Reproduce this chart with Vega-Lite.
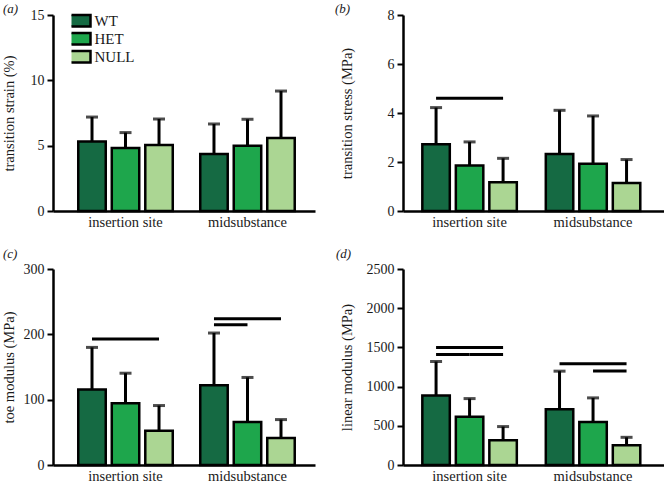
{
  "$schema": "https://vega.github.io/schema/vega-lite/v6.json",
  "background": "white",
  "padding": {"left": 1, "top": 3, "right": 0, "bottom": 0},
  "bounds": "flush",
  "columns": 2,
  "spacing": {"row": 58, "column": 88},
  "resolve": {"scale": {"color": "independent"}, "legend": {"color": "independent"}},
  "datasets": {
    "bars": [
      {"panel": "a", "site": "insertion site", "genotype": "WT", "mean": 5.31, "upper": 7.19},
      {"panel": "a", "site": "insertion site", "genotype": "HET", "mean": 4.82, "upper": 6.0},
      {"panel": "a", "site": "insertion site", "genotype": "NULL", "mean": 5.05, "upper": 7.04},
      {"panel": "a", "site": "midsubstance", "genotype": "WT", "mean": 4.36, "upper": 6.66},
      {"panel": "a", "site": "midsubstance", "genotype": "HET", "mean": 5.0, "upper": 7.02},
      {"panel": "a", "site": "midsubstance", "genotype": "NULL", "mean": 5.59, "upper": 9.18},
      {"panel": "b", "site": "insertion site", "genotype": "WT", "mean": 2.72, "upper": 4.22},
      {"panel": "b", "site": "insertion site", "genotype": "HET", "mean": 1.86, "upper": 2.82},
      {"panel": "b", "site": "insertion site", "genotype": "NULL", "mean": 1.17, "upper": 2.15},
      {"panel": "b", "site": "midsubstance", "genotype": "WT", "mean": 2.33, "upper": 4.11},
      {"panel": "b", "site": "midsubstance", "genotype": "HET", "mean": 1.93, "upper": 3.88},
      {"panel": "b", "site": "midsubstance", "genotype": "NULL", "mean": 1.14, "upper": 2.1},
      {"panel": "c", "site": "insertion site", "genotype": "WT", "mean": 115.5, "upper": 180},
      {"panel": "c", "site": "insertion site", "genotype": "HET", "mean": 94.5, "upper": 140.5},
      {"panel": "c", "site": "insertion site", "genotype": "NULL", "mean": 52.6, "upper": 91},
      {"panel": "c", "site": "midsubstance", "genotype": "WT", "mean": 122, "upper": 202},
      {"panel": "c", "site": "midsubstance", "genotype": "HET", "mean": 66, "upper": 134},
      {"panel": "c", "site": "midsubstance", "genotype": "NULL", "mean": 41.4, "upper": 69.5},
      {"panel": "d", "site": "insertion site", "genotype": "WT", "mean": 886, "upper": 1320},
      {"panel": "d", "site": "insertion site", "genotype": "HET", "mean": 617, "upper": 847},
      {"panel": "d", "site": "insertion site", "genotype": "NULL", "mean": 315, "upper": 490},
      {"panel": "d", "site": "midsubstance", "genotype": "WT", "mean": 711, "upper": 1197},
      {"panel": "d", "site": "midsubstance", "genotype": "HET", "mean": 549, "upper": 856},
      {"panel": "d", "site": "midsubstance", "genotype": "NULL", "mean": 251, "upper": 353}
    ],
    "sig": [
      {"panel": "b", "id": "b1", "site": "insertion site", "genotype": "WT", "level": 4.6},
      {"panel": "b", "id": "b1", "site": "insertion site", "genotype": "NULL", "level": 4.6},
      {"panel": "c", "id": "c1", "site": "insertion site", "genotype": "WT", "level": 193},
      {"panel": "c", "id": "c1", "site": "insertion site", "genotype": "NULL", "level": 193},
      {"panel": "c", "id": "c2", "site": "midsubstance", "genotype": "WT", "level": 224},
      {"panel": "c", "id": "c2", "site": "midsubstance", "genotype": "NULL", "level": 224},
      {"panel": "c", "id": "c3", "site": "midsubstance", "genotype": "WT", "level": 214.5},
      {"panel": "c", "id": "c3", "site": "midsubstance", "genotype": "HET", "level": 214.5},
      {"panel": "d", "id": "d1", "site": "insertion site", "genotype": "WT", "level": 1500},
      {"panel": "d", "id": "d1", "site": "insertion site", "genotype": "NULL", "level": 1500},
      {"panel": "d", "id": "d2", "site": "insertion site", "genotype": "WT", "level": 1410},
      {"panel": "d", "id": "d2", "site": "insertion site", "genotype": "HET", "level": 1410},
      {"panel": "d", "id": "d3", "site": "insertion site", "genotype": "HET", "level": 1410},
      {"panel": "d", "id": "d3", "site": "insertion site", "genotype": "NULL", "level": 1410},
      {"panel": "d", "id": "d4", "site": "midsubstance", "genotype": "WT", "level": 1290},
      {"panel": "d", "id": "d4", "site": "midsubstance", "genotype": "NULL", "level": 1290},
      {"panel": "d", "id": "d5", "site": "midsubstance", "genotype": "HET", "level": 1200},
      {"panel": "d", "id": "d5", "site": "midsubstance", "genotype": "NULL", "level": 1200}
    ]
  },
  "concat": [
    {
      "width": 262, "height": 196,
      "title": {"text": "(a)", "anchor": "start", "frame": "group", "dx": -50, "offset": -18, "baseline": "alphabetic"},
      "layer": [
        {"data": {"name": "bars"}, "transform": [{"filter": "datum.panel == 'a'"}],
         "mark": {"type": "rule", "color": "black", "strokeWidth": 3},
         "encoding": {
           "x": {"field": "site", "type": "nominal", "title": null, "scale": {"domain": ["insertion site", "midsubstance"], "paddingInner": 0.18, "paddingOuter": 0.164, "align": 0.5625}},
           "xOffset": {"field": "genotype", "type": "nominal", "scale": {"domain": ["WT", "HET", "NULL"], "paddingInner": 0.18, "paddingOuter": 0.0825}},
           "y": {"field": "mean", "type": "quantitative", "title": "transition strain (%)", "scale": {"domain": [0, 15]}, "axis": {"values": [0, 5, 10, 15], "tickCount": 10, "titleX": -44, "titleY": 98}},
           "y2": {"field": "upper"}}},
        {"data": {"name": "bars"}, "transform": [{"filter": "datum.panel == 'a'"}],
         "mark": {"type": "tick", "color": "black", "thickness": 3, "size": 12},
         "encoding": {
           "x": {"field": "site", "type": "nominal", "title": null, "scale": {"domain": ["insertion site", "midsubstance"], "paddingInner": 0.18, "paddingOuter": 0.164, "align": 0.5625}},
           "xOffset": {"field": "genotype", "type": "nominal", "scale": {"domain": ["WT", "HET", "NULL"], "paddingInner": 0.18, "paddingOuter": 0.0825}},
           "y": {"field": "upper", "type": "quantitative", "title": "transition strain (%)", "scale": {"domain": [0, 15]}}}},
        {"data": {"name": "bars"}, "transform": [{"filter": "datum.panel == 'a'"}],
         "mark": {"type": "bar", "stroke": "black", "strokeWidth": 2.5, "opacity": 1},
         "encoding": {
           "x": {"field": "site", "type": "nominal", "title": null, "scale": {"domain": ["insertion site", "midsubstance"], "paddingInner": 0.18, "paddingOuter": 0.164, "align": 0.5625}},
           "xOffset": {"field": "genotype", "type": "nominal", "scale": {"domain": ["WT", "HET", "NULL"], "paddingInner": 0.18, "paddingOuter": 0.0825}},
           "y": {"field": "mean", "type": "quantitative", "title": "transition strain (%)", "scale": {"domain": [0, 15]}},
           "color": {"field": "genotype", "type": "nominal", "scale": {"domain": ["WT", "HET", "NULL"], "range": ["#156a43", "#1ea64c", "#abd693"]},
             "legend": {"title": null, "orient": "none", "legendX": 18.5, "legendY": -3, "clipHeight": 17.5, "symbolType": "M-2.875,-1.44H2.875V1.44H-2.875Z", "symbolSize": 64, "symbolStrokeColor": "black", "symbolStrokeWidth": 2.5, "symbolOpacity": 1, "labelFont": "Liberation Serif", "labelFontSize": 15, "labelColor": "#1a1a1a", "labelOffset": 8, "rowPadding": 0, "padding": 0}}}}
      ]
    },
    {
      "width": 262, "height": 196,
      "title": {"text": "(b)", "anchor": "start", "frame": "group", "dx": -68, "offset": -18, "baseline": "alphabetic"},
      "layer": [
        {"data": {"name": "bars"}, "transform": [{"filter": "datum.panel == 'b'"}],
         "mark": {"type": "rule", "color": "black", "strokeWidth": 3},
         "encoding": {
           "x": {"field": "site", "type": "nominal", "title": null, "scale": {"domain": ["insertion site", "midsubstance"], "paddingInner": 0.19, "paddingOuter": 0.156, "align": 0.43}},
           "xOffset": {"field": "genotype", "type": "nominal", "scale": {"domain": ["WT", "HET", "NULL"], "paddingInner": 0.18, "paddingOuter": 0.0825}},
           "y": {"field": "mean", "type": "quantitative", "title": "transition stress (MPa)", "scale": {"domain": [0, 8]}, "axis": {"values": [0, 2, 4, 6, 8], "tickCount": 10, "titleX": -56, "titleY": 98}},
           "y2": {"field": "upper"}}},
        {"data": {"name": "bars"}, "transform": [{"filter": "datum.panel == 'b'"}],
         "mark": {"type": "tick", "color": "black", "thickness": 3, "size": 12},
         "encoding": {
           "x": {"field": "site", "type": "nominal", "title": null, "scale": {"domain": ["insertion site", "midsubstance"], "paddingInner": 0.19, "paddingOuter": 0.156, "align": 0.43}},
           "xOffset": {"field": "genotype", "type": "nominal", "scale": {"domain": ["WT", "HET", "NULL"], "paddingInner": 0.18, "paddingOuter": 0.0825}},
           "y": {"field": "upper", "type": "quantitative", "title": "transition stress (MPa)", "scale": {"domain": [0, 8]}}}},
        {"data": {"name": "bars"}, "transform": [{"filter": "datum.panel == 'b'"}],
         "mark": {"type": "bar", "stroke": "black", "strokeWidth": 2.5, "opacity": 1},
         "encoding": {
           "x": {"field": "site", "type": "nominal", "title": null, "scale": {"domain": ["insertion site", "midsubstance"], "paddingInner": 0.19, "paddingOuter": 0.156, "align": 0.43}},
           "xOffset": {"field": "genotype", "type": "nominal", "scale": {"domain": ["WT", "HET", "NULL"], "paddingInner": 0.18, "paddingOuter": 0.0825}},
           "y": {"field": "mean", "type": "quantitative", "title": "transition stress (MPa)", "scale": {"domain": [0, 8]}},
           "color": {"field": "genotype", "type": "nominal", "scale": {"domain": ["WT", "HET", "NULL"], "range": ["#156a43", "#1ea64c", "#abd693"]}, "legend": null}}},
        {"data": {"name": "sig"}, "transform": [{"filter": "datum.panel == 'b'"}],
         "mark": {"type": "line", "color": "black", "strokeWidth": 3, "strokeCap": "butt"},
         "encoding": {
           "x": {"field": "site", "type": "nominal", "title": null, "scale": {"domain": ["insertion site", "midsubstance"], "paddingInner": 0.19, "paddingOuter": 0.156, "align": 0.43}},
           "xOffset": {"field": "genotype", "type": "nominal", "scale": {"domain": ["WT", "HET", "NULL"], "paddingInner": 0.18, "paddingOuter": 0.0825}},
           "y": {"field": "level", "type": "quantitative", "title": "transition stress (MPa)", "scale": {"domain": [0, 8]}},
           "detail": {"field": "id", "type": "nominal"}}}
      ]
    },
    {
      "width": 262, "height": 196,
      "title": {"text": "(c)", "anchor": "start", "frame": "group", "dx": -50, "offset": -9, "baseline": "alphabetic"},
      "layer": [
        {"data": {"name": "bars"}, "transform": [{"filter": "datum.panel == 'c'"}],
         "mark": {"type": "rule", "color": "black", "strokeWidth": 3},
         "encoding": {
           "x": {"field": "site", "type": "nominal", "title": null, "scale": {"domain": ["insertion site", "midsubstance"], "paddingInner": 0.18, "paddingOuter": 0.164, "align": 0.5625}},
           "xOffset": {"field": "genotype", "type": "nominal", "scale": {"domain": ["WT", "HET", "NULL"], "paddingInner": 0.18, "paddingOuter": 0.0825}},
           "y": {"field": "mean", "type": "quantitative", "title": "toe modulus (MPa)", "scale": {"domain": [0, 300]}, "axis": {"values": [0, 100, 200, 300], "tickCount": 10, "titleX": -44, "titleY": 98}},
           "y2": {"field": "upper"}}},
        {"data": {"name": "bars"}, "transform": [{"filter": "datum.panel == 'c'"}],
         "mark": {"type": "tick", "color": "black", "thickness": 3, "size": 12},
         "encoding": {
           "x": {"field": "site", "type": "nominal", "title": null, "scale": {"domain": ["insertion site", "midsubstance"], "paddingInner": 0.18, "paddingOuter": 0.164, "align": 0.5625}},
           "xOffset": {"field": "genotype", "type": "nominal", "scale": {"domain": ["WT", "HET", "NULL"], "paddingInner": 0.18, "paddingOuter": 0.0825}},
           "y": {"field": "upper", "type": "quantitative", "title": "toe modulus (MPa)", "scale": {"domain": [0, 300]}}}},
        {"data": {"name": "bars"}, "transform": [{"filter": "datum.panel == 'c'"}],
         "mark": {"type": "bar", "stroke": "black", "strokeWidth": 2.5, "opacity": 1},
         "encoding": {
           "x": {"field": "site", "type": "nominal", "title": null, "scale": {"domain": ["insertion site", "midsubstance"], "paddingInner": 0.18, "paddingOuter": 0.164, "align": 0.5625}},
           "xOffset": {"field": "genotype", "type": "nominal", "scale": {"domain": ["WT", "HET", "NULL"], "paddingInner": 0.18, "paddingOuter": 0.0825}},
           "y": {"field": "mean", "type": "quantitative", "title": "toe modulus (MPa)", "scale": {"domain": [0, 300]}},
           "color": {"field": "genotype", "type": "nominal", "scale": {"domain": ["WT", "HET", "NULL"], "range": ["#156a43", "#1ea64c", "#abd693"]}, "legend": null}}},
        {"data": {"name": "sig"}, "transform": [{"filter": "datum.panel == 'c'"}],
         "mark": {"type": "line", "color": "black", "strokeWidth": 3, "strokeCap": "butt"},
         "encoding": {
           "x": {"field": "site", "type": "nominal", "title": null, "scale": {"domain": ["insertion site", "midsubstance"], "paddingInner": 0.18, "paddingOuter": 0.164, "align": 0.5625}},
           "xOffset": {"field": "genotype", "type": "nominal", "scale": {"domain": ["WT", "HET", "NULL"], "paddingInner": 0.18, "paddingOuter": 0.0825}},
           "y": {"field": "level", "type": "quantitative", "title": "toe modulus (MPa)", "scale": {"domain": [0, 300]}},
           "detail": {"field": "id", "type": "nominal"}}}
      ]
    },
    {
      "width": 262, "height": 196,
      "title": {"text": "(d)", "anchor": "start", "frame": "group", "dx": -67, "offset": -9, "baseline": "alphabetic"},
      "layer": [
        {"data": {"name": "bars"}, "transform": [{"filter": "datum.panel == 'd'"}],
         "mark": {"type": "rule", "color": "black", "strokeWidth": 3},
         "encoding": {
           "x": {"field": "site", "type": "nominal", "title": null, "scale": {"domain": ["insertion site", "midsubstance"], "paddingInner": 0.19, "paddingOuter": 0.156, "align": 0.43}},
           "xOffset": {"field": "genotype", "type": "nominal", "scale": {"domain": ["WT", "HET", "NULL"], "paddingInner": 0.18, "paddingOuter": 0.0825}},
           "y": {"field": "mean", "type": "quantitative", "title": "linear modulus (MPa)", "scale": {"domain": [0, 2500]}, "axis": {"values": [0, 500, 1000, 1500, 2000, 2500], "tickCount": 10, "format": "d", "labelOverlap": false, "titleX": -56, "titleY": 98}},
           "y2": {"field": "upper"}}},
        {"data": {"name": "bars"}, "transform": [{"filter": "datum.panel == 'd'"}],
         "mark": {"type": "tick", "color": "black", "thickness": 3, "size": 12},
         "encoding": {
           "x": {"field": "site", "type": "nominal", "title": null, "scale": {"domain": ["insertion site", "midsubstance"], "paddingInner": 0.19, "paddingOuter": 0.156, "align": 0.43}},
           "xOffset": {"field": "genotype", "type": "nominal", "scale": {"domain": ["WT", "HET", "NULL"], "paddingInner": 0.18, "paddingOuter": 0.0825}},
           "y": {"field": "upper", "type": "quantitative", "title": "linear modulus (MPa)", "scale": {"domain": [0, 2500]}}}},
        {"data": {"name": "bars"}, "transform": [{"filter": "datum.panel == 'd'"}],
         "mark": {"type": "bar", "stroke": "black", "strokeWidth": 2.5, "opacity": 1},
         "encoding": {
           "x": {"field": "site", "type": "nominal", "title": null, "scale": {"domain": ["insertion site", "midsubstance"], "paddingInner": 0.19, "paddingOuter": 0.156, "align": 0.43}},
           "xOffset": {"field": "genotype", "type": "nominal", "scale": {"domain": ["WT", "HET", "NULL"], "paddingInner": 0.18, "paddingOuter": 0.0825}},
           "y": {"field": "mean", "type": "quantitative", "title": "linear modulus (MPa)", "scale": {"domain": [0, 2500]}},
           "color": {"field": "genotype", "type": "nominal", "scale": {"domain": ["WT", "HET", "NULL"], "range": ["#156a43", "#1ea64c", "#abd693"]}, "legend": null}}},
        {"data": {"name": "sig"}, "transform": [{"filter": "datum.panel == 'd'"}],
         "mark": {"type": "line", "color": "black", "strokeWidth": 3, "strokeCap": "butt"},
         "encoding": {
           "x": {"field": "site", "type": "nominal", "title": null, "scale": {"domain": ["insertion site", "midsubstance"], "paddingInner": 0.19, "paddingOuter": 0.156, "align": 0.43}},
           "xOffset": {"field": "genotype", "type": "nominal", "scale": {"domain": ["WT", "HET", "NULL"], "paddingInner": 0.18, "paddingOuter": 0.0825}},
           "y": {"field": "level", "type": "quantitative", "title": "linear modulus (MPa)", "scale": {"domain": [0, 2500]}},
           "detail": {"field": "id", "type": "nominal"}}}
      ]
    }
  ],
  "config": {
    "view": {"stroke": null},
    "font": "Liberation Serif",
    "title": {"font": "Liberation Serif", "fontSize": 13, "fontStyle": "italic", "fontWeight": "normal", "color": "#1a1a1a"},
    "axis": {"domainColor": "black", "domainWidth": 2.5, "tickColor": "black", "tickWidth": 2, "tickSize": 6, "labelFont": "Liberation Serif", "labelFontSize": 14, "labelColor": "#1a1a1a", "labelPadding": 3, "labelOverlap": false, "titleFont": "Liberation Serif", "titleFontSize": 14.5, "titleFontWeight": "normal", "titleColor": "#1a1a1a", "grid": false},
    "axisX": {"ticks": false, "labelAngle": 0, "labelPadding": 4, "labelFontSize": 14.5},
    "axisY": {"titleBaseline": "middle", "titleAlign": "center", "titleAngle": -90}
  }
}
